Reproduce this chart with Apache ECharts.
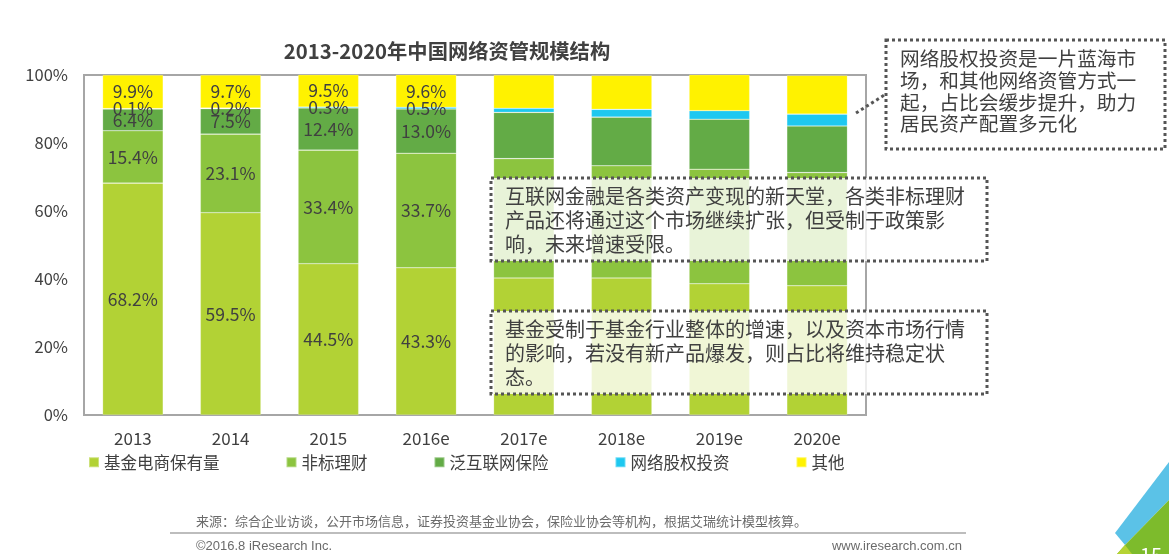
<!DOCTYPE html>
<html>
<head>
<meta charset="utf-8">
<script src="https://cdn.jsdelivr.net/npm/echarts@6/dist/echarts.min.js"></script>
<style>
html,body{margin:0;padding:0;background:#fff;}
#main{width:1169px;height:554px;}
</style>
</head>
<body>
<div id="main"></div>
<script>
var categories = ['2013', '2014', '2015', '2016e', '2017e', '2018e', '2019e', '2020e'];
var seriesNames = ['基金电商保有量', '非标理财', '泛互联网保险', '网络股权投资', '其他'];
var fundEcommerce = [68.2, 59.5, 44.5, 43.3, 40.3, 40.3, 38.6, 38.0];
var nonStandard = [15.4, 23.1, 33.4, 33.7, 35.1, 33.0, 33.7, 33.3];
var internetInsurance = [6.4, 7.5, 12.4, 13.0, 13.6, 14.3, 14.7, 13.7];
var equityInvestment = [0.1, 0.2, 0.3, 0.5, 1.2, 2.3, 2.5, 3.5];
var others = [9.9, 9.7, 9.5, 9.6, 9.8, 10.0, 10.6, 11.4];
var yTicks = [0, 20, 40, 60, 80, 100];
var labeledCount = 4;

var colors = ['#b2d235', '#8cc43f', '#63ab46', '#1ec8f0', '#fff200'];
var allValues = [fundEcommerce, nonStandard, internetInsurance, equityInvestment, others];
var FONT = '"Noto Sans CJK SC", "Noto Sans", sans-serif';

var series = seriesNames.map(function (name, si) {
  return {
    name: name,
    type: 'bar',
    stack: 'total',
    barCategoryGap: '38%',
    itemStyle: { color: colors[si], borderColor: 'rgba(255,255,255,0.35)', borderWidth: 0.6 },
    label: {
      show: true,
      position: 'inside',
      color: '#404040',
      fontSize: 17.5,
      fontFamily: FONT,
      formatter: function (p) { return p.value.toFixed(1) + '%'; }
    },
    data: allValues[si].map(function (v, i) {
      return { value: v, label: { show: i < labeledCount } };
    })
  };
});

var chart = echarts.init(document.getElementById('main'));
chart.setOption({
  animation: false,
  textStyle: { fontFamily: FONT },
  color: colors,
  grid: { left: 84, right: 303, top: 75, bottom: 139, show: true, borderColor: '#a6a6a6', borderWidth: 2, backgroundColor: 'transparent' },
  legend: {
    left: 83, top: 449,
    icon: 'rect', itemWidth: 10, itemHeight: 10, itemGap: 66,
    textStyle: { fontSize: 16.5, color: '#404040', fontFamily: FONT },
    data: seriesNames
  },
  xAxis: {
    type: 'category',
    data: categories,
    axisLine: { show: false },
    axisTick: { show: false },
    axisLabel: { color: '#404040', fontSize: 17, margin: 15, fontFamily: FONT }
  },
  yAxis: {
    type: 'value',
    min: yTicks[0], max: yTicks[yTicks.length - 1], interval: 20,
    splitLine: { show: false },
    axisLine: { show: false },
    axisTick: { show: false },
    axisLabel: { color: '#404040', fontSize: 16.5, margin: 16, fontFamily: FONT, formatter: '{value}%' }
  },
  series: series,
  graphic: [
    { type: 'text', z: 100, x: 447, y: 51, style: { text: '2013-2020年中国网络资管规模结构', font: 'bold 20.3px ' + FONT, fill: '#404040', textAlign: 'center', textVerticalAlign: 'middle' } },
    // connector
    { type: 'line', z: 100, shape: { x1: 856, y1: 113, x2: 886, y2: 94 }, style: { stroke: '#555', lineWidth: 3, lineDash: [3, 3] } },
    // box 1
    { type: 'rect', z: 100, shape: { x: 886, y: 40, width: 279, height: 109 }, style: { fill: 'rgba(255,255,255,0.85)', stroke: '#555', lineWidth: 3, lineDash: [3, 3] } },
    { type: 'text', z: 101, x: 900, y: 48, style: { text: '网络股权投资是一片蓝海市\n场，和其他网络资管方式一\n起，占比会缓步提升，助力\n居民资产配置多元化', font: '19.7px ' + FONT, fill: '#404040', lineHeight: 21.7 } },
    // box 2
    { type: 'rect', z: 100, shape: { x: 491, y: 178, width: 496, height: 83 }, style: { fill: 'rgba(255,255,255,0.8)', stroke: '#555', lineWidth: 3, lineDash: [3, 3] } },
    { type: 'text', z: 101, x: 505, y: 185, style: { text: '互联网金融是各类资产变现的新天堂，各类非标理财\n产品还将通过这个市场继续扩张，但受制于政策影\n响，未来增速受限。', font: '20px ' + FONT, fill: '#404040', lineHeight: 23.7 } },
    // box 3
    { type: 'rect', z: 100, shape: { x: 491, y: 311, width: 496, height: 83 }, style: { fill: 'rgba(255,255,255,0.8)', stroke: '#555', lineWidth: 3, lineDash: [3, 3] } },
    { type: 'text', z: 101, x: 505, y: 318, style: { text: '基金受制于基金行业整体的增速，以及资本市场行情\n的影响，若没有新产品爆发，则占比将维持稳定状\n态。', font: '20px ' + FONT, fill: '#404040', lineHeight: 23.7 } },
    // footer
    { type: 'text', z: 100, x: 196, y: 521, style: { text: '来源：综合企业访谈，公开市场信息，证券投资基金业协会，保险业协会等机构，根据艾瑞统计模型核算。', font: '13px ' + FONT, fill: '#6b6b6b', textVerticalAlign: 'middle' } },
    { type: 'line', z: 100, shape: { x1: 170, y1: 533, x2: 966, y2: 533 }, style: { stroke: '#bdbdbd', lineWidth: 2 } },
    { type: 'text', z: 100, x: 196, y: 546, style: { text: '©2016.8 iResearch Inc.', font: '13px "Liberation Sans", Arial, sans-serif', fill: '#6b6b6b', textVerticalAlign: 'middle' } },
    { type: 'text', z: 100, x: 962, y: 546, style: { text: 'www.iresearch.com.cn', font: '13px "Liberation Sans", Arial, sans-serif', fill: '#6b6b6b', textAlign: 'right', textVerticalAlign: 'middle' } },
    // corner decoration
    { type: 'polygon', z: 100, shape: { points: [[1115, 533], [1169, 462], [1169, 500], [1125, 545]] }, style: { fill: '#5bc2e7' } },
    { type: 'polygon', z: 100, shape: { points: [[1125, 545], [1169, 500], [1169, 554], [1117, 554]] }, style: { fill: '#7dbb2c' } },
    { type: 'polygon', z: 100, shape: { points: [[1117, 554], [1125, 545], [1132, 554]] }, style: { fill: '#b6d334' } },
    { type: 'text', z: 101, x: 1140, y: 545, style: { text: '15', font: '20px ' + FONT, fill: '#ffffff' } }
  ]
});
</script>
</body>
</html>
